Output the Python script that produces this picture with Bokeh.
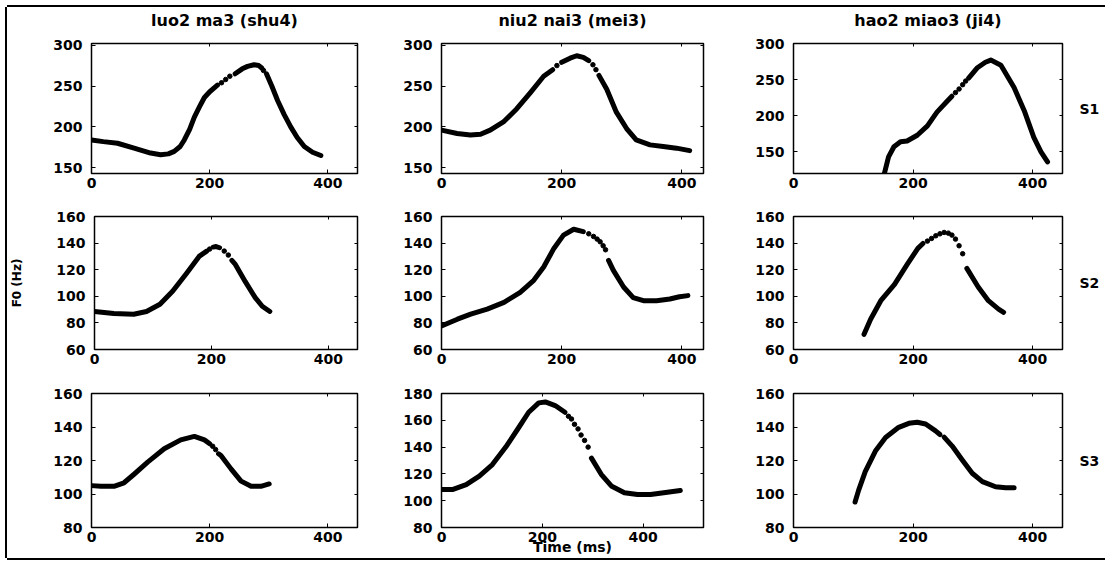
import math
from bokeh.plotting import figure
from bokeh.layouts import row, column
from bokeh.models import FixedTicker, Range1d, LinearAxis
from bokeh.embed import file_html
from bokeh.resources import INLINE

nan = float("nan")

# ---------------- data ----------------
words = ["luo2 ma3 (shu4)", "niu2 nai3 (mei3)", "hao2 miao3 (ji4)"]
speakers = ["S1", "S2", "S3"]
x_ticks = [0, 200, 400]

# S1
s1_luo_t = [0, 20, 44, 72, 100, 117, 130, 140, 150, 157, 166, 174, 183, 191, 200, 213, nan,
            243, 255, 264, 275, 283, 288, nan, 296, 305, 315, 326, 337, 348, 360, 374, 388]
s1_luo_f = [184, 182, 180, 174, 168, 166, 167, 170, 176, 184, 197, 212, 225, 236, 243, 251, nan,
            265, 271, 274, 276, 275, 272, nan, 265, 250, 232, 215, 200, 187, 176, 169, 165]
s1_luo_dot_t = [220, 227, 234, 291]
s1_luo_dot_f = [254, 258, 262, 269]

s1_niu_t = [0, 26, 48, 65, 81, 103, 125, 148, 170, 185, nan, 200, 214, 225, 236, 245, nan,
            262, 275, 291, 308, 324, 347, 369, 391, 413]
s1_niu_f = [196, 192, 190, 191, 196, 206, 222, 242, 262, 270, nan, 279, 284, 287, 285, 281, nan,
            263, 246, 218, 198, 184, 178, 176, 174, 171]
s1_niu_dot_t = [192, 252, 257]
s1_niu_dot_f = [275, 276, 270]

s1_hao_t = [152, 159, 168, 179, 190, 207, 224, 240, 257, 265, nan,
            293, 307, 321, 330, 347, 369, 386, 402, 414, 425]
s1_hao_f = [120, 143, 157, 164, 165, 173, 186, 205, 220, 227, nan,
            252, 266, 274, 277, 270, 239, 207, 170, 150, 136]
s1_hao_dot_t = [271, 277, 283, 288]
s1_hao_dot_f = [232, 237, 243, 248]

# S2
s2_luo_t = [0, 33, 67, 89, 112, 134, 157, 179, 192, nan, 203, 208, 214, nan,
            235, 241, 258, 275, 287, 300]
s2_luo_f = [88.6, 87, 86.5, 88.6, 94, 104, 117, 130, 134, nan, 137, 137.4, 136.5, nan,
            127, 124, 111, 99, 92.5, 88.6]
s2_luo_dot_t = [197, 222, 229]
s2_luo_dot_f = [135.5, 134, 131]

s2_niu_t = [0, 26.5, 48.6, 76, 104, 131, 153.5, 170, 187, 203, 220, 236, nan,
            278, 286, 303, 319, 336, 358, 380, 396, 410]
s2_niu_f = [77.7, 82.8, 86.6, 90.4, 95.4, 103, 112, 122, 136, 146, 150.4, 148.6, nan,
            127, 119.5, 107, 99, 96.7, 96.7, 98, 99.7, 100.5]
s2_niu_dot_t = [245, 253, 259, 264, 269, 273]
s2_niu_dot_f = [147, 145, 143, 141, 138, 135]

s2_hao_t = [118, 129, 146, 169, 191, 208, 216.5, nan, 290, 309, 326, 343, 351.5]
s2_hao_f = [71.4, 82.8, 96.7, 109, 124.6, 136, 139.7, nan, 121, 107, 96.7, 90.4, 88]
s2_hao_dot_t = [224, 231, 238, 245, 252, 259, 265, 271, 277, 283]
s2_hao_dot_f = [141.5, 143.5, 145.5, 147, 148, 147.5, 146, 143, 138, 132]

# S3
s3_luo_t = [0, 16, 38, 55, 72, 95, 123, 151, 174, 191, 200, nan,
            215, 219, 236, 253, 270, 286.5, 300.6]
s3_luo_f = [105, 104.6, 104.6, 106.7, 111.8, 119, 127, 132.3, 134.4, 132.3, 130, nan,
            124, 123, 115, 107.7, 104.6, 104.6, 106]
s3_luo_dot_t = [205, 210]
s3_luo_dot_f = [128.5, 126.5]

s3_niu_t = [0, 23, 49, 75, 101, 127.5, 154, 173, 193, 206, 225.6, 245, nan,
            297.6, 317, 337, 363, 389, 415, 441, 474]
s3_niu_f = [108.4, 108.4, 112, 118.4, 127, 140, 155, 166, 173, 173.7, 171, 166, nan,
            131.8, 119.7, 111, 106, 104.6, 104.6, 106, 107.6]
s3_niu_dot_t = [252, 258, 264, 271, 277, 284, 291]
s3_niu_dot_f = [163, 161, 157, 153.6, 149, 145, 140]

s3_hao_t = [103, 109, 120, 137, 154, 176, 193, 207, 221, 237.6, 245, nan,
            252, 265.5, 282, 299, 316, 338, 355, 369]
s3_hao_f = [95.2, 102.3, 113.4, 125.6, 133.7, 139.8, 142.2, 142.8, 141.8, 137.7, 135.5, nan,
            134, 128.6, 120.5, 112.4, 107.4, 104.3, 103.7, 103.7]
s3_hao_dot_t = []
s3_hao_dot_f = []

curves = [
    [(s1_luo_t, s1_luo_f, s1_luo_dot_t, s1_luo_dot_f),
     (s1_niu_t, s1_niu_f, s1_niu_dot_t, s1_niu_dot_f),
     (s1_hao_t, s1_hao_f, s1_hao_dot_t, s1_hao_dot_f)],
    [(s2_luo_t, s2_luo_f, s2_luo_dot_t, s2_luo_dot_f),
     (s2_niu_t, s2_niu_f, s2_niu_dot_t, s2_niu_dot_f),
     (s2_hao_t, s2_hao_f, s2_hao_dot_t, s2_hao_dot_f)],
    [(s3_luo_t, s3_luo_f, s3_luo_dot_t, s3_luo_dot_f),
     (s3_niu_t, s3_niu_f, s3_niu_dot_t, s3_niu_dot_f),
     (s3_hao_t, s3_hao_f, s3_hao_dot_t, s3_hao_dot_f)],
]

x_limits = [[(0, 450), (0, 436), (0, 450)],
            [(0, 450), (0, 436), (0, 450)],
            [(0, 450), (0, 520), (0, 450)]]
y_limits = [[(143, 302), (143, 302), (120, 300)],
            [(60, 160), (60, 160), (60, 160)],
            [(80, 160), (80, 180), (80, 160)]]
y_ticks = [[[150, 200, 250, 300]] * 3,
           [[60, 80, 100, 120, 140, 160]] * 3,
           [[80, 100, 120, 140, 160], [80, 100, 120, 140, 160, 180], [80, 100, 120, 140, 160]]]

# ---------------- layout / style ----------------
FONT = "DejaVu Sans"
col_w = [391, 352, 355]
col_bl = [84, 43, 43]
col_br = [41, 47, 43]
row_h = [191, 177, 183]
row_bt = [35, 18, 18]
row_bb = [25, 26, 31]


def bare_axis(ax):
    ax.axis_line_color = None
    ax.major_tick_line_color = None
    ax.minor_tick_line_color = None
    ax.major_tick_in = 0
    ax.major_tick_out = 0
    ax.major_label_text_font = FONT
    ax.major_label_text_font_style = "bold"
    ax.major_label_text_color = "black"


def tick_axis(ticks):
    ax = LinearAxis(ticker=FixedTicker(ticks=ticks))
    ax.axis_line_color = None
    ax.minor_tick_line_color = None
    ax.major_tick_line_color = "black"
    ax.major_tick_in = 3
    ax.major_tick_out = 0
    ax.major_label_text_color = None
    ax.major_label_text_font_size = "1px"
    ax.major_label_standoff = 0
    return ax


rows = []
for r in range(3):
    figs = []
    for c in range(3):
        xr = x_limits[r][c]
        yr = y_limits[r][c]
        p = figure(width=col_w[c], height=row_h[r],
                   x_range=Range1d(*xr), y_range=Range1d(*yr),
                   output_backend="svg", toolbar_location=None,
                   min_border_left=col_bl[c], min_border_right=col_br[c],
                   min_border_top=row_bt[r], min_border_bottom=row_bb[r])
        p.background_fill_color = "white"
        p.border_fill_color = "white"
        p.outline_line_color = "black"
        p.outline_line_width = 1.5
        p.outline_line_alpha = 1.0
        p.grid.visible = False

        xa = p.xaxis[0]
        ya = p.yaxis[0]
        xa.ticker = FixedTicker(ticks=x_ticks)
        ya.ticker = FixedTicker(ticks=y_ticks[r][c])
        for ax in (xa, ya):
            ax.axis_line_color = None
            ax.major_tick_in = 4
            ax.major_tick_out = 0
            ax.major_tick_line_color = "black"
            ax.minor_tick_line_color = None
            ax.major_label_text_font = FONT
            ax.major_label_text_font_size = "14px"
            ax.major_label_text_font_style = "bold"
            ax.major_label_text_color = "black"
        xa.major_label_standoff = 4
        ya.major_label_standoff = 9

        if r == 1 and c == 0:
            ya.axis_label = "F0 (Hz)"
            ya.axis_label_text_font = FONT
            ya.axis_label_text_font_size = "12px"
            ya.axis_label_text_font_style = "bold"
            ya.axis_label_text_color = "black"
            ya.axis_label_standoff = 29

        if r == 2 and c == 1:
            xa.axis_label = "Time (ms)"
            xa.axis_label_text_font = FONT
            xa.axis_label_text_font_size = "14px"
            xa.axis_label_text_font_style = "bold"
            xa.axis_label_text_color = "black"
            xa.axis_label_standoff = -6

        # small inward ticks on the top and right edges of the box
        p.add_layout(tick_axis(x_ticks), "above")
        p.add_layout(tick_axis(y_ticks[r][c]), "right")

        # column titles (top row) as a label-only axis above the frame
        if r == 0:
            xmid = (xr[0] + xr[1]) // 2
            top = LinearAxis(ticker=FixedTicker(ticks=[xmid]),
                             major_label_overrides={xmid: words[c]})
            bare_axis(top)
            top.major_label_text_font_size = "16px"
            top.major_label_standoff = 14
            p.add_layout(top, "above")

        # speaker labels on the right of the last column
        if c == 2:
            ymid = (yr[0] + yr[1]) // 2
            right = LinearAxis(ticker=FixedTicker(ticks=[ymid]),
                               major_label_overrides={ymid: speakers[r]})
            bare_axis(right)
            right.major_label_text_font_size = "14px"
            right.major_label_standoff = 17
            p.add_layout(right, "right")

        t, f, dt, df = curves[r][c]
        p.line(t, f, line_width=5, color="black", line_cap="round", line_join="round")
        if dt:
            p.scatter(dt, df, size=4.5, color="black")
        figs.append(p)
    rows.append(row(*figs))

layout = column(*rows, margin=(7, 0, 0, 7),
                styles={"box-shadow": "-2px 0 0 0 #000, 0 -2px 0 0 #000, 0 2px 0 0 #000"})

open("out.html", "w").write(file_html(layout, INLINE))
